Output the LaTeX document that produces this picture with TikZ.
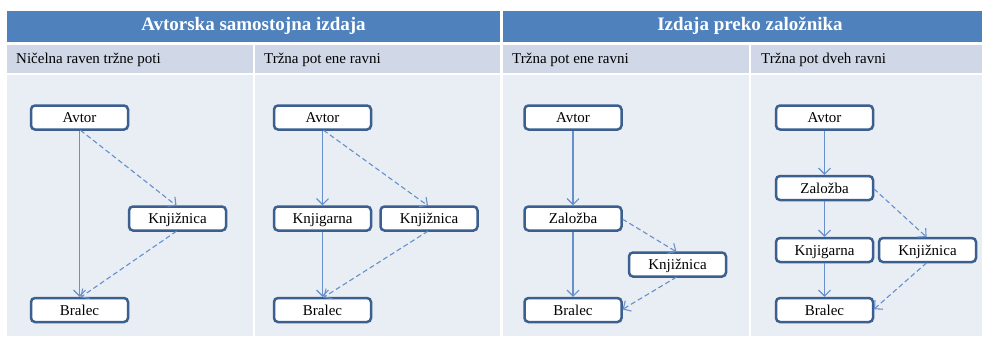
\documentclass[tikz,border=0pt]{standalone}
\usepackage{fontspec}
\setmainfont{Liberation Serif}
\usetikzlibrary{arrows.meta,positioning}
\definecolor{headblue}{HTML}{4F81BD}
\definecolor{subgray}{HTML}{D0D8E8}
\definecolor{bodygray}{HTML}{E9EDF4}
\definecolor{boxblue}{HTML}{3B6090}
\definecolor{arrowblue}{HTML}{6690CC}

\begin{document}
\begin{tikzpicture}[x=1pt,y=-1pt, every node/.style={font=\fontsize{15}{18}\selectfont}, box/.style={draw=boxblue,line width=2.5pt,rounded corners=4pt,fill=white,minimum width=97pt,minimum height=24pt,inner sep=0pt,outer sep=0pt,text height=11pt,text depth=1pt}, head/.style={text=white,font=\fontsize{19}{22}\selectfont\bfseries}, sub/.style={anchor=west,inner sep=0pt}, arr/.style={-{Straight Barb[length=6pt,width=12pt]},line width=1.1pt,draw=arrowblue,shorten <=1.2pt,shorten >=1.2pt}, darr/.style={arr,dash pattern=on 5pt off 3pt}]
\fill[white] (0,0) rectangle (982,343);
\useasboundingbox (0,0) rectangle (982,343);
\fill[headblue] (7,11) rectangle (500,41.5);
\fill[headblue] (503,11) rectangle (982,41.5);
\fill[subgray] (7,44.5) rectangle (253,73);
\fill[subgray] (255,44.5) rectangle (500,73);
\fill[subgray] (503,44.5) rectangle (749,73);
\fill[subgray] (751,44.5) rectangle (982,73);
\fill[bodygray] (7,75) rectangle (253,336);
\fill[bodygray] (255,75) rectangle (500,336);
\fill[bodygray] (503,75) rectangle (749,336);
\fill[bodygray] (751,75) rectangle (982,336);
\node[head] (selfpub) at (253.5,26) {Avtorska samostojna izdaja};
\node[head] (viapub) at (750,26) {Izdaja preko založnika};
\node[sub] (level0) at (16,59.5) {Ničelna raven tržne poti};
\node[sub] (level1a) at (264,59.5) {Tržna pot ene ravni};
\node[sub] (level1b) at (512,59.5) {Tržna pot ene ravni};
\node[sub] (level2) at (761,59.5) {Tržna pot dveh ravni};

\node[box] (avtor1) at (79.5,117.5) {Avtor};
\node[box,below=168.5pt of avtor1] (bralec1) {Bralec};
\node[box] (knjiznica1) at (177.5,218.5) {Knjižnica};

\node[box] (avtor2) at (322.5,117.5) {Avtor};
\node[box,below=77pt of avtor2] (knjigarna2) {Knjigarna};
\node[box,right=9.5pt of knjigarna2] (knjiznica2) {Knjižnica};
\node[box,below=67.5pt of knjigarna2] (bralec2) {Bralec};

\node[box] (avtor3) at (573,117.5) {Avtor};
\node[box,below=77pt of avtor3] (zalozba3) {Založba};
\node[box,below=67.5pt of zalozba3] (bralec3) {Bralec};
\node[box] (knjiznica3) at (677.5,264.5) {Knjižnica};

\node[box] (avtor4) at (824.5,117.5) {Avtor};
\node[box,below=46.5pt of avtor4] (zalozba4) {Založba};
\node[box,below=38pt of zalozba4] (knjigarna4) {Knjigarna};
\node[box,right=6pt of knjigarna4] (knjiznica4) {Knjižnica};
\node[box,below=36pt of knjigarna4] (bralec4) {Bralec};

\draw[arr] (avtor1) -- (bralec1);
\draw[darr] (avtor1.south) -- (knjiznica1.north);
\draw[darr] (knjiznica1.south) -- (bralec1.north);

\draw[arr] (avtor2) -- (knjigarna2);
\draw[arr] (knjigarna2) -- (bralec2);
\draw[darr] (avtor2.south) -- (knjiznica2.north);
\draw[darr] (knjiznica2.south) -- (bralec2.north);

\draw[arr] (avtor3) -- (zalozba3);
\draw[arr] (zalozba3) -- (bralec3);
\draw[darr] (zalozba3.east) -- (knjiznica3.north);
\draw[darr] (knjiznica3.south) -- (bralec3.east);

\draw[arr] (avtor4) -- (zalozba4);
\draw[arr] (zalozba4) -- (knjigarna4);
\draw[arr] (knjigarna4) -- (bralec4);
\draw[darr] (zalozba4.east) -- (knjiznica4.north);
\draw[darr] (knjiznica4.south) -- (bralec4.east);
\end{tikzpicture}
\end{document}
